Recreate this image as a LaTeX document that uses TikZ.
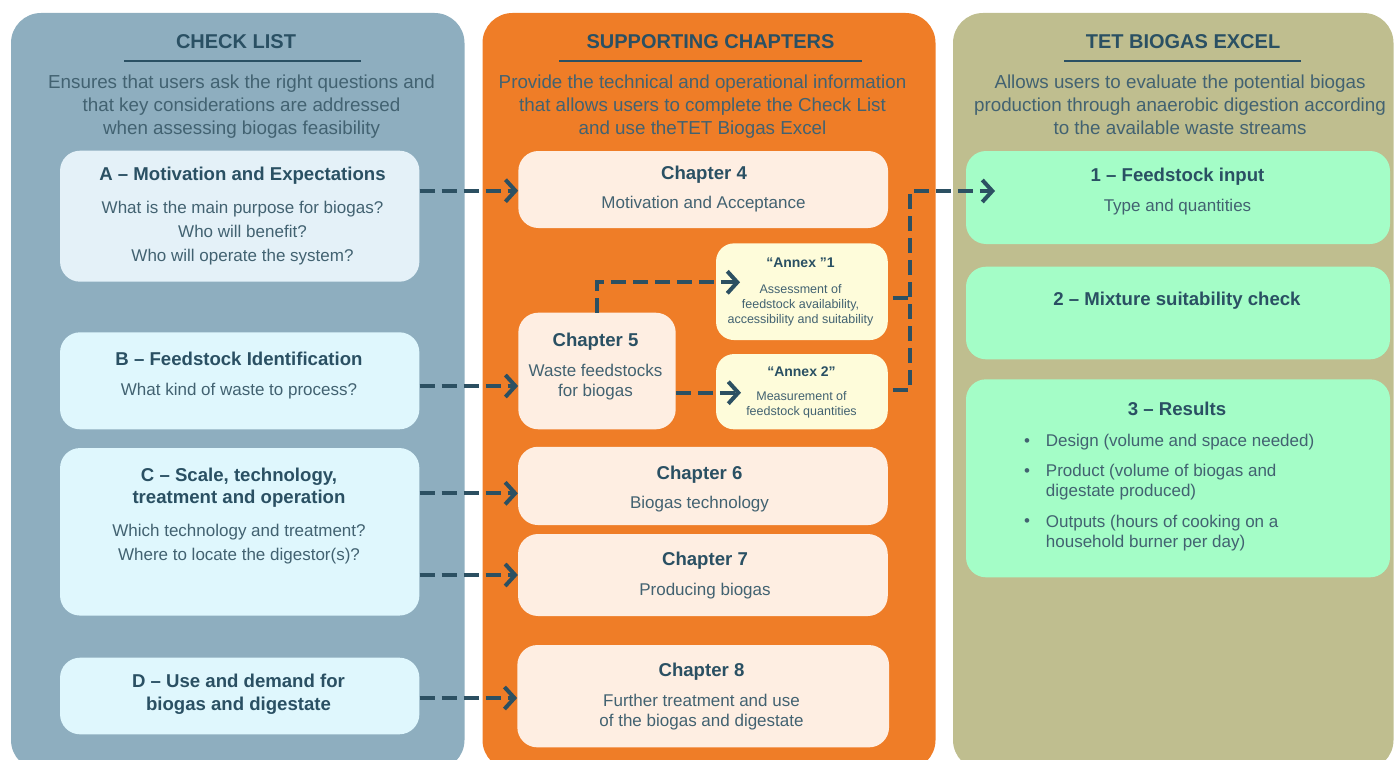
\documentclass[tikz,border=0pt]{standalone}
\usepackage{fontspec}
\setmainfont{Liberation Sans}
\usetikzlibrary{arrows.meta}

\definecolor{panelL}{RGB}{142,174,191}
\definecolor{panelM}{RGB}{239,125,39}
\definecolor{panelR}{RGB}{191,190,143}
\definecolor{boxA}{RGB}{228,241,248}
\definecolor{boxL}{RGB}{223,247,253}
\definecolor{boxM}{RGB}{254,238,226}
\definecolor{boxX}{RGB}{254,252,218}
\definecolor{boxR}{RGB}{164,253,199}
\definecolor{darkc}{RGB}{42,80,99}
\definecolor{bodyc}{RGB}{66,98,113}
\definecolor{connc}{RGB}{44,80,98}

% Multi-line text nodes are placed by the baseline of their last line.
\begin{document}
\begin{tikzpicture}[x=1pt,y=-1pt,
  panel/.style={rounded corners=30pt},
  box/.style={rounded corners=20pt, inner sep=0pt, draw=none},
  hd/.style={inner sep=0pt, anchor=base, text=darkc, font=\fontsize{20}{24}\selectfont\bfseries},
  sub/.style={inner sep=0pt, anchor=base, align=center, text=bodyc, font=\fontsize{18.8}{23}\selectfont},
  ttl/.style={inner sep=0pt, anchor=base, align=center, text=darkc, font=\fontsize{18.6}{22.7}\selectfont\bfseries},
  body/.style={inner sep=0pt, anchor=base, align=center, text=bodyc, font=\fontsize{17}{20}\selectfont},
  wide/.style={font=\fontsize{17}{24.1}\selectfont},
  anxt/.style={inner sep=0pt, anchor=base, align=center, text=darkc, font=\fontsize{14}{16}\selectfont\bfseries},
  anxb/.style={inner sep=0pt, anchor=base, align=center, text=bodyc, font=\fontsize{12.5}{15.2}\selectfont},
  rule/.style={draw=darkc, line width=2.3pt},
  conn/.style={draw=connc, line width=4pt, dash pattern=on 15pt off 7pt,
    -{Straight Barb[length=10pt,width=22pt]}},
  stub/.style={draw=connc, line width=4pt, dash pattern=on 15pt off 7pt}
]
\clip (0,0) rectangle (1397,760);

% three column panels
\fill[panel, panelL] (11,13) rectangle (464.5,770);
\fill[panel, panelM] (482.5,13) rectangle (935.5,770);
\fill[panel, panelR] (953,13) rectangle (1393.5,770);

% column headers
\node[hd] (hL) at (236,48.3) {CHECK LIST};
\draw[rule] (124,61) -- (361,61);
\node[sub] (sL) at (241.5,134.3) {Ensures that users ask the right questions and\\that key considerations are addressed\\when assessing biogas feasibility};

\node[hd] (hM) at (710.5,48.3) {SUPPORTING CHAPTERS};
\draw[rule] (559,61) -- (862,61);
\node[sub] (sM) at (702.5,134.3) {Provide the technical and operational information\\that allows users to complete the Check List\\and use theTET Biogas Excel};

\node[hd] (hR) at (1183,48.3) {TET BIOGAS EXCEL};
\draw[rule] (1064,61) -- (1300.7,61);
\node[sub] (sR) at (1180,134.3) {Allows users to evaluate the potential biogas\\production through anaerobic digestion according\\to the available waste streams};

% check list boxes
\node[box, fill=boxA, minimum width=359.3pt, minimum height=131pt] (a) at (239.7,216.2) {};
\node[ttl] (a-t) at (242.5,180) {A – Motivation and Expectations};
\node[body, wide] (a-b) at (242.5,261.5) {What is the main purpose for biogas?\\Who will benefit?\\Who will operate the system?};

\node[box, fill=boxL, minimum width=359.3pt, minimum height=97pt] (b) at (239.7,380.8) {};
\node[ttl] (b-t) at (239,365) {B – Feedstock Identification};
\node[body] (b-b) at (239,395) {What kind of waste to process?};

\node[box, fill=boxL, minimum width=359.3pt, minimum height=167.5pt] (c) at (239.7,531.8) {};
\node[ttl] (c-t) at (239,503.7) {C – Scale, technology,\\treatment and operation};
\node[body, wide] (c-b) at (239,560.6) {Which technology and treatment?\\Where to locate the digestor(s)?};

\node[box, fill=boxL, minimum width=359.3pt, minimum height=76.6pt] (d) at (239.7,696) {};
\node[ttl] (d-t) at (238.5,710) {D – Use and demand for\\biogas and digestate};

% supporting chapter boxes
\node[box, fill=boxM, minimum width=369.7pt, minimum height=77pt] (ch4) at (703.2,189.5) {};
\node[ttl] (ch4-t) at (704,179) {Chapter 4};
\node[body] (ch4-b) at (703.5,208) {Motivation and Acceptance};

\node[box, fill=boxM, minimum width=157.4pt, minimum height=116.6pt] (ch5) at (597,371) {};
\node[ttl] (ch5-t) at (595.5,346) {Chapter 5};
\node[body] (ch5-b) at (595.5,396) {Waste feedstocks\\for biogas};

\node[box, rounded corners=18pt, fill=boxX, minimum width=171.7pt, minimum height=96.7pt] (an1) at (801.9,291.7) {};
\node[anxt] (an1-t) at (800.5,267.7) {“Annex ”1};
\node[anxb] (an1-b) at (800.5,323.7) {Assessment of\\feedstock availability,\\accessibility and suitability};

\node[box, rounded corners=18pt, fill=boxX, minimum width=171.7pt, minimum height=75.3pt] (an2) at (801.9,391.7) {};
\node[anxt] (an2-t) at (801.5,376.7) {“Annex 2”};
\node[anxb] (an2-b) at (801.5,415.9) {Measurement of\\feedstock quantities};

\node[box, fill=boxM, minimum width=369.7pt, minimum height=78.3pt] (ch6) at (702.9,485.9) {};
\node[ttl] (ch6-t) at (699.5,479) {Chapter 6};
\node[body] (ch6-b) at (699.5,508.3) {Biogas technology};

\node[box, fill=boxM, minimum width=369.7pt, minimum height=82pt] (ch7) at (702.9,575) {};
\node[ttl] (ch7-t) at (705,565) {Chapter 7};
\node[body] (ch7-b) at (705,595) {Producing biogas};

\node[box, fill=boxM, minimum width=371.7pt, minimum height=102.3pt] (ch8) at (703.2,696.2) {};
\node[ttl] (ch8-t) at (701.5,676.7) {Chapter 8};
\node[body] (ch8-b) at (701.5,726.7) {Further treatment and use\\of the biogas and digestate};

% excel tool boxes
\node[box, fill=boxR, minimum width=424pt, minimum height=93pt] (f1) at (1178,197.5) {};
\node[ttl] (f1-t) at (1177.5,181.7) {1 – Feedstock input};
\node[body] (f1-b) at (1177.5,211.7) {Type and quantities};

\node[box, fill=boxR, minimum width=424pt, minimum height=92.6pt] (f2) at (1178,313) {};
\node[ttl] (f2-t) at (1177,305) {2 – Mixture suitability check};

\node[box, fill=boxR, minimum width=424pt, minimum height=198pt] (f3) at (1178,478.3) {};
\node[ttl] (f3-t) at (1177,415.7) {3 – Results};
\node[body, anchor=base] (f3-d1) at (1027,446) {•};
\node[body, anchor=base west, align=left] (f3-l1) at (1045.7,446) {Design (volume and space needed)};
\node[body, anchor=base] (f3-d2) at (1027,476) {•};
\node[body, anchor=base west, align=left] (f3-l2) at (1045.7,496.5) {Product (volume of biogas and\\digestate produced)};
\node[body, anchor=base] (f3-d3) at (1027,526.7) {•};
\node[body, anchor=base west, align=left] (f3-l3) at (1045.7,547) {Outputs (hours of cooking on a\\household burner per day)};

% arrow end points inside the target boxes
\coordinate (an1in) at (740,282.3);
\coordinate (an2in) at (741,392.7);
\coordinate (f1in) at (995,191);
\coordinate (jn) at (910,390);

% connectors
\draw[conn] (a.east |- 0,190.7) -- (ch4.west |- 0,190.7);
\draw[conn] (b.east |- 0,386) -- (ch5.west |- 0,386);
\draw[conn] (c.east |- 0,493.3) -- (ch6.west |- 0,493.3);
\draw[conn] (c.east |- 0,575) -- (ch7.west |- 0,575);
\draw[conn] (d.east |- 0,698) -- (ch8.west |- 0,698);
\draw[conn] (ch5.north) |- (an1in);
\draw[conn] (ch5.east |- an2in) -- (an2in);
\draw[conn, shorten <=5pt] (an2.east |- jn) -- (jn) |- (f1in);
\draw[stub, shorten <=5pt] (an1.east |- 0,298.3) -- (jn |- 0,298.3);
\end{tikzpicture}
\end{document}
